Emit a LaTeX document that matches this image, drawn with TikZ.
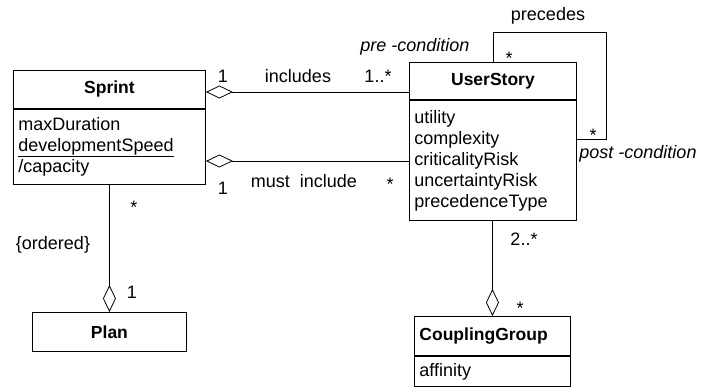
\documentclass[tikz,border=0pt]{standalone}
\usepackage{fontspec}
\setmainfont{Liberation Sans}
\usetikzlibrary{arrows.meta}
\begin{document}
\begin{tikzpicture}[x=1pt,y=-1pt,
  box/.style={draw, line width=0.9pt, inner sep=0pt},
  title/.style={box, font=\fontsize{17.5}{20}\selectfont\bfseries, anchor=north west},
  attrs/.style={box, font=\fontsize{18}{21}\selectfont, align=left, anchor=north west, inner xsep=5pt},
  lbl/.style={font=\fontsize{18}{21}\selectfont, anchor=base, inner sep=0pt},
  cond/.style={lbl, font=\fontsize{18}{21}\selectfont\itshape},
  conn/.style={line width=0.8pt},
  agg/.style={conn, {Diamond[open, length=27pt, width=13pt]}-},
]
\useasboundingbox (0,0) rectangle (704,388);

% classes
\node[title, minimum width=192pt, minimum height=38pt] (sprintT) at (13,70) {Sprint};
\node[attrs, text width=182pt, minimum height=75pt] (sprintA) at (sprintT.south west)
  {maxDuration\\\underline{developmentSpeed}\\/capacity};

\node[title, minimum width=167pt, minimum height=37pt] (usT) at (409,62) {UserStory};
\node[attrs, text width=157pt, minimum height=120pt] (usA) at (usT.south west)
  {utility\\complexity\\criticalityRisk\\uncertaintyRisk\\precedenceType};

\node[title, minimum width=154pt, minimum height=39pt] (plan) at (32,312) {Plan};

\node[title, text width=146pt, inner xsep=5pt, align=left, minimum height=39pt] (cgT) at (414,316) {CouplingGroup};
\node[attrs, text width=146pt, minimum height=30pt] (cgA) at (cgT.south west) {affinity};

% helper coordinates for connector rows and the self loop
\coordinate (topY) at (0,92);
\coordinate (lowY) at (0,161);
\coordinate (loopL) at (493,32);
\coordinate (loopR) at (606,139);

% associations
\draw[agg] (sprintT.east |- topY) -- (usT.west |- topY);
\draw[agg] (sprintA.east |- lowY) -- (usA.west |- lowY);
\draw[agg] (plan.north) -- (sprintA.south);
\draw[agg] (cgT.north) -- (cgT.north |- usA.south);
\draw[conn] (usT.north -| loopL) -- (loopL) -| (loopR) -- (usA.east |- loopR);

% labels
\node[lbl] (m1) at (223,82) {1};
\node[lbl] (incl) at (298,82) {includes};
\node[lbl] (m2) at (378,82) {1..*};
\node[lbl] (m3) at (223,194) {1};
\node[lbl] (must) at (304,187) {must\ \ include};
\node[lbl] (m4) at (390,190) {*};
\node[lbl] (m5) at (134,213) {*};
\node[lbl] (ord) at (53,249) {\{ordered\}};
\node[lbl] (m6) at (132,298) {1};
\node[lbl] (m7) at (524,245) {2..*};
\node[lbl] (m8) at (520,314) {*};
\node[lbl] (prec) at (548,20) {precedes};
\node[lbl] (m9) at (509,64) {*};
\node[lbl] (m10) at (593,141) {*};
\node[cond] (pre) at (415,51) {pre -condition};
\node[cond] (post) at (638,158) {post -condition};
\end{tikzpicture}
\end{document}
